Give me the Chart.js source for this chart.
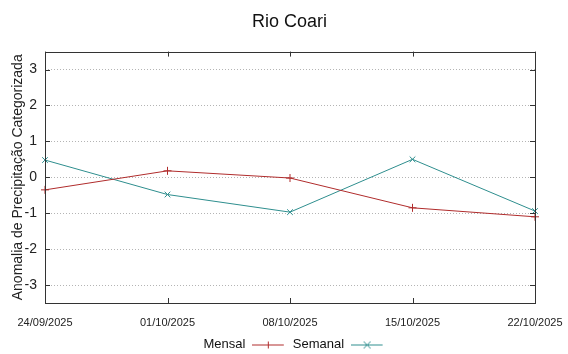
<!DOCTYPE html>
<html>
<head>
<meta charset="utf-8">
<script src="https://cdn.jsdelivr.net/npm/chart.js@4.4.1/dist/chart.umd.min.js"></script>
<style>
  html, body { margin: 0; padding: 0; background: #fff; }
  #wrap { width: 568px; height: 354px; }
</style>
</head>
<body>
<div id="wrap"><canvas id="chuva" width="568" height="354"></canvas></div>
<script>
const datas = ["24/09/2025", "01/10/2025", "08/10/2025", "15/10/2025", "22/10/2025"];
const mensal = [-0.35, 0.18, -0.02, -0.85, -1.1];
const semanal = [0.48, -0.48, -0.97, 0.5, -0.94];
const yTicks = [-3, -2, -1, 0, 1, 2, 3];

const corMensal = "#b02c2c";
const corSemanal = "#2e8e8e";
const fonte = "'Liberation Sans', Arial, sans-serif";

// amostra da legenda no estilo gnuplot: linha com marcador no meio
function amostra(cor, marca) {
  const c = document.createElement("canvas");
  c.width = 41; c.height = 10;
  const g = c.getContext("2d");
  g.strokeStyle = cor;
  g.lineWidth = 1;
  g.beginPath(); g.moveTo(0, 5.5); g.lineTo(32, 5.5); g.stroke();
  g.beginPath();
  if (marca === "+") {
    g.moveTo(16.5, 2); g.lineTo(16.5, 9);
  } else {
    g.moveTo(13, 2); g.lineTo(20, 9); g.moveTo(20, 2); g.lineTo(13, 9);
  }
  g.stroke();
  return c;
}

// título e legenda ficam um pouco à direita, como no gnuplot
const deslocar = {
  id: "deslocar",
  afterLayout(chart) {
    if (chart.titleBlock) { chart.titleBlock.left += 22; chart.titleBlock.right += 22; }
    if (chart.legend) { chart.legend.left += 30; chart.legend.right += 30; }
  }
};

// borda e marcas internas em todos os lados
const moldura = {
  id: "moldura",
  afterDatasetsDraw(chart) {
    const { ctx, chartArea: a, scales } = chart;
    ctx.save();
    ctx.strokeStyle = "#333";
    ctx.lineWidth = 1;
    ctx.strokeRect(Math.round(a.left) + 0.5, Math.round(a.top) + 0.5,
      Math.round(a.right - a.left), Math.round(a.bottom - a.top));
    ctx.beginPath();
    yTicks.forEach(v => {
      const y = Math.round(scales.y.getPixelForValue(v)) + 0.5;
      ctx.moveTo(a.left, y); ctx.lineTo(a.left + 5, y);
      ctx.moveTo(a.right, y); ctx.lineTo(a.right - 5, y);
    });
    datas.forEach((d, i) => {
      const x = Math.round(scales.x.getPixelForValue(i)) + 0.5;
      ctx.moveTo(x, a.bottom); ctx.lineTo(x, a.bottom - 5);
      ctx.moveTo(x, a.top); ctx.lineTo(x, a.top + 5);
    });
    ctx.stroke();
    ctx.restore();
  }
};

new Chart(document.getElementById("chuva"), {
  type: "line",
  data: {
    labels: datas,
    datasets: [
      {
        label: "Mensal",
        data: mensal,
        borderColor: corMensal,
        backgroundColor: corMensal,
        borderWidth: 1,
        pointStyle: "cross",
        pointRadius: 4,
        pointBorderWidth: 1,
        tension: 0
      },
      {
        label: "Semanal",
        data: semanal,
        borderColor: corSemanal,
        backgroundColor: corSemanal,
        borderWidth: 1,
        pointStyle: "crossRot",
        pointRadius: 4,
        pointBorderWidth: 1,
        tension: 0
      }
    ]
  },
  options: {
    responsive: false,
    animation: false,
    layout: { padding: { left: 0, right: 33, top: 0, bottom: -7 } },
    plugins: {
      title: {
        display: true,
        text: "Rio Coari",
        color: "#111",
        font: { family: fonte, size: 18, weight: "normal" },
        padding: { top: 11, bottom: 19 }
      },
      legend: {
        position: "bottom",
        rtl: true,
        reverse: true,
        labels: {
          color: "#111",
          font: { family: fonte, size: 13 },
          usePointStyle: true,
          pointStyleWidth: 41,
          boxHeight: 10,
          padding: 0,
          generateLabels: () => [
            { text: "Mensal", pointStyle: amostra(corMensal, "+"), datasetIndex: 0, fontColor: "#111" },
            { text: "Semanal", pointStyle: amostra(corSemanal, "x"), datasetIndex: 1, fontColor: "#111" }
          ]
        }
      },
      tooltip: { enabled: false }
    },
    scales: {
      x: {
        offset: false,
        grid: { display: false, drawTicks: false },
        border: { display: false },
        ticks: {
          color: "#222",
          font: { family: fonte, size: 11 },
          maxRotation: 0,
          autoSkip: false,
          padding: 13
        },
        afterFit: s => { s.height = 35; s.paddingLeft = 0; s.paddingRight = 0; }
      },
      y: {
        min: -3.5,
        max: 3.5,
        afterBuildTicks: s => { s.ticks = yTicks.map(v => ({ value: v })); },
        grid: {
          color: "#b4b4b4",
          lineWidth: 1,
          drawTicks: false
        },
        border: { display: false, dash: [1, 2] },
        ticks: {
          color: "#222",
          font: { family: fonte, size: 14 },
          padding: 8
        },
        title: {
          display: true,
          text: "Anomalia de Precipitação Categorizada",
          color: "#222",
          font: { family: fonte, size: 14 },
          padding: { top: 10, bottom: 0 }
        },
        afterFit: s => { s.width = 45; }
      }
    }
  },
  plugins: [deslocar, moldura]
});
</script>
</body>
</html>
